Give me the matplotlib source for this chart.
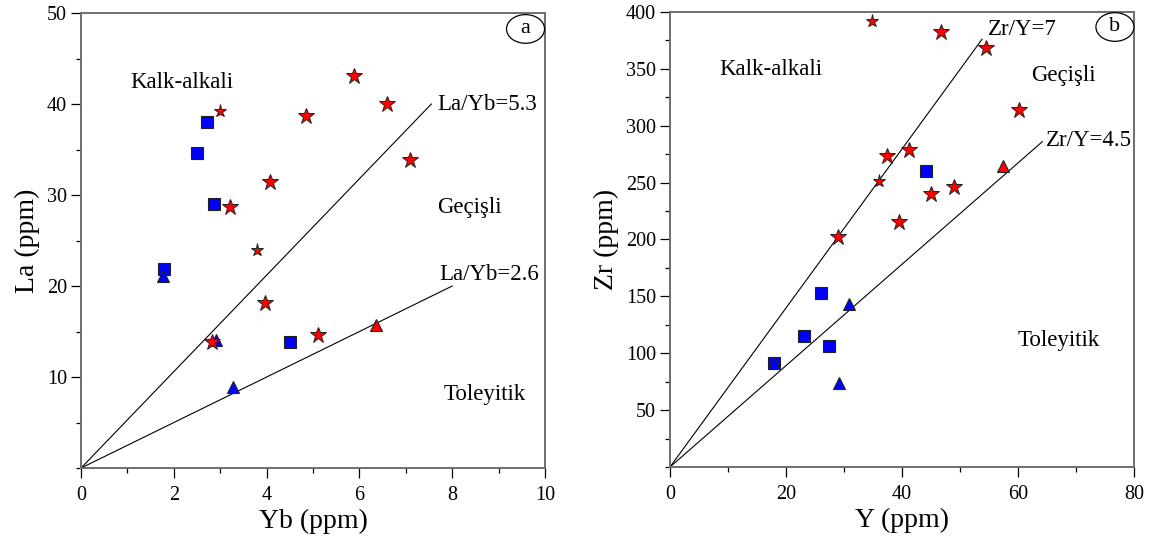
import matplotlib
matplotlib.use("Agg")
import matplotlib.pyplot as plt
from matplotlib.patches import Ellipse
from matplotlib.ticker import MultipleLocator

plt.rcParams['font.family'] = ['Liberation Serif', 'DejaVu Serif']

# ---- Panel a: Yb vs La ----
a_star_yb = [5.89, 6.59, 4.85, 7.08, 4.08, 3.20, 3.97, 5.11, 2.83]
a_star_la = [43.1, 40.0, 38.7, 33.8, 31.4, 28.7, 18.1, 14.6, 13.8]
a_smallstar_yb = [2.99, 3.80]
a_smallstar_la = [39.2, 24.0]
a_square_yb = [2.71, 2.49, 2.87, 1.79, 4.50]
a_square_la = [38.0, 34.6, 29.0, 21.9, 13.8]
a_btri_yb = [1.76, 2.91, 3.28]
a_btri_la = [21.1, 14.1, 8.9]
a_rtri_yb = [6.36]
a_rtri_la = [15.7]
a_line_x = [7.55, 8.0]
a_line_y = [40.0, 20.0]
a_line_labels = ["La/Yb=5.3", "La/Yb=2.6"]

# ---- Panel b: Y vs Zr ----
b_star_y = [46.8, 54.5, 60.2, 41.2, 37.5, 49.0, 45.0, 39.5, 29.0]
b_star_zr = [382, 368, 313.8, 278.7, 273.7, 246, 239.7, 215, 202.6]
b_smallstar_y = [34.9, 36.1]
b_smallstar_zr = [392, 251]
b_square_y = [44.2, 26.1, 23.1, 27.4, 17.9]
b_square_zr = [260, 153, 115, 106, 91.5]
b_btri_y = [30.9, 17.9, 29.2]
b_btri_zr = [143, 91.5, 74]
b_rtri_y = [57.5]
b_rtri_zr = [265]
b_line_x = [53.8, 64.2]
b_line_y = [376, 286]
b_line_labels = ["Zr/Y=7", "Zr/Y=4.5"]

fig = plt.figure(figsize=(11.53, 5.42), dpi=100)
axa = fig.add_axes([0.0703, 0.1365, 0.4024, 0.8395])
axb = fig.add_axes([0.5811, 0.1384, 0.4024, 0.8395])

RED = '#ff0000'
BLUE = '#0000ff'
EC = '#222222'
FS = 16.5


def draw(ax, sx, sy, ssx, ssy, qx, qy, btx, bty, rtx, rty, lx, ly, llab):
    for x, y, lab in zip(lx, ly, llab):
        ax.plot([0, x], [0, y], color='black', lw=0.8, zorder=2)
    ax.plot(qx, qy, 's', ms=9, mfc=BLUE, mec=EC, mew=0.8, ls='none', zorder=3)
    ax.plot(btx, bty, '^', ms=9, mfc=BLUE, mec=EC, mew=0.8, ls='none', zorder=4)
    ax.plot(rtx, rty, '^', ms=9, mfc=RED, mec=EC, mew=0.8, ls='none', zorder=4)
    ax.plot(sx, sy, '*', ms=12, mfc=RED, mec=EC, mew=0.7, ls='none', zorder=5)
    ax.plot(ssx, ssy, '*', ms=9.5, mfc=RED, mec=EC, mew=0.7, ls='none', zorder=5)
    for sp in ax.spines.values():
        sp.set_color('#6e6e6e')
        sp.set_linewidth(1.4)
    ax.tick_params(which='major', direction='out', length=7, width=0.9,
                   labelsize=14.5, color='black', pad=3)
    ax.tick_params(which='minor', direction='out', length=3.5, width=0.9,
                   color='black')
    ax.tick_params(axis='x', which='major', pad=6)


draw(axa, a_star_yb, a_star_la, a_smallstar_yb, a_smallstar_la,
     a_square_yb, a_square_la, a_btri_yb, a_btri_la, a_rtri_yb, a_rtri_la,
     a_line_x, a_line_y, a_line_labels)
axa.set_xlim(0, 10)
axa.set_ylim(0, 50)
axa.xaxis.set_major_locator(MultipleLocator(2))
axa.xaxis.set_minor_locator(MultipleLocator(1))
axa.yaxis.set_minor_locator(MultipleLocator(5))
axa.set_yticks([10, 20, 30, 40, 50])
axa.set_xlabel("Yb (ppm)", fontsize=20, labelpad=3)
axa.set_ylabel("La (ppm)", fontsize=20, labelpad=5)
axa.text(7.68, 40.0, a_line_labels[0], fontsize=FS, ha='left', va='center')
axa.text(7.73, 21.3, a_line_labels[1], fontsize=FS, ha='left', va='center')
axa.text(2.18, 42.4, "Kalk-alkali", fontsize=FS, ha='center', va='center')
axa.text(8.36, 28.6, "Geçişli", fontsize=FS, ha='center', va='center')
axa.text(8.7, 8.1, "Toleyitik", fontsize=FS, ha='center', va='center')

draw(axb, b_star_y, b_star_zr, b_smallstar_y, b_smallstar_zr,
     b_square_y, b_square_zr, b_btri_y, b_btri_zr, b_rtri_y, b_rtri_zr,
     b_line_x, b_line_y, b_line_labels)
axb.set_xlim(0, 80)
axb.set_ylim(0, 400)
axb.xaxis.set_major_locator(MultipleLocator(20))
axb.xaxis.set_minor_locator(MultipleLocator(10))
axb.yaxis.set_minor_locator(MultipleLocator(25))
axb.set_yticks([50, 100, 150, 200, 250, 300, 350, 400])
axb.set_xlabel("Y (ppm)", fontsize=20, labelpad=3)
axb.set_ylabel("Zr (ppm)", fontsize=20, labelpad=5)
axb.text(54.8, 385, b_line_labels[0], fontsize=FS, ha='left', va='center')
axb.text(64.9, 287, b_line_labels[1], fontsize=FS, ha='left', va='center')
axb.text(17.4, 349, "Kalk-alkali", fontsize=FS, ha='center', va='center')
axb.text(67.9, 344, "Geçişli", fontsize=FS, ha='center', va='center')
axb.text(67.0, 111, "Toleyitik", fontsize=FS, ha='center', va='center')

for ax, lab, cx, cy in [(axa, 'a', 0.958, 0.965), (axb, 'b', 0.959, 0.967)]:
    e = Ellipse((cx, cy), 0.082, 0.063, transform=ax.transAxes,
                facecolor='white', edgecolor='black', lw=0.9, zorder=6, clip_on=False)
    ax.add_patch(e)
    ax.text(cx, cy, lab, transform=ax.transAxes, fontsize=16, ha='center',
            va='center', zorder=7)

fig.savefig("out.png", dpi=100)
